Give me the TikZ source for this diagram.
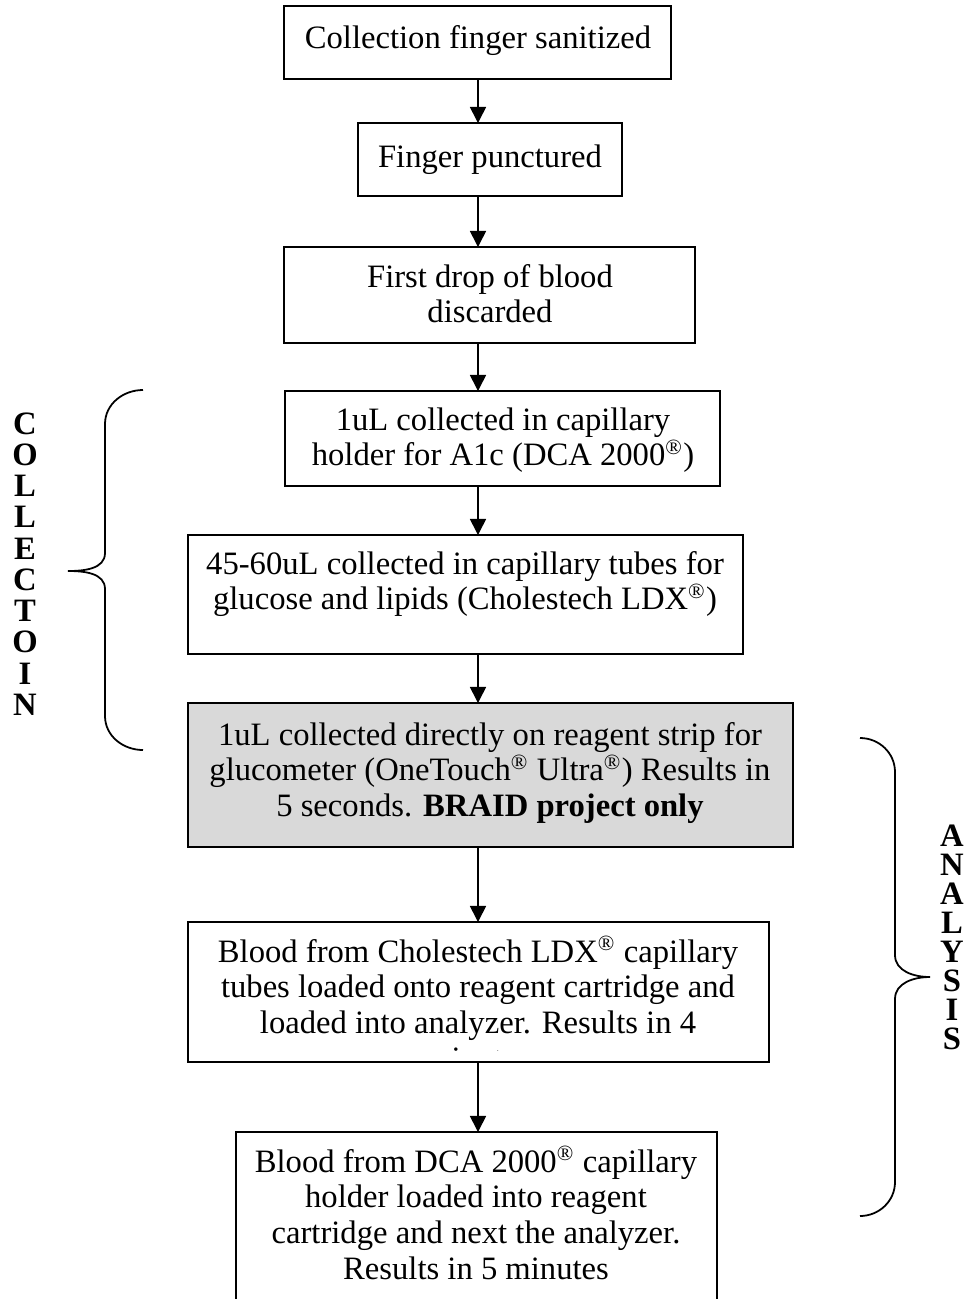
\documentclass[tikz,border=0pt]{standalone}
\usepackage{fontspec}
\setmainfont{Liberation Serif}
\usetikzlibrary{arrows.meta,calc}
\definecolor{boxgray}{RGB}{217,217,217}
\newcommand\mkbox[6]{\node[box,#6,minimum width={(#4-#2)*0.3676pt},minimum height={(#5-#3)*0.3676pt}] (#1) at ({(#2+#4)/2},{(#3+#5)/2}) {};}
\newcommand\reg{\textsuperscript{®}}
\begin{document}
\begin{tikzpicture}[x=0.3676pt,y=-0.3676pt,
  box/.style={draw, line width=0.75pt, rectangle, inner sep=0pt, outer sep=0pt},
  txt/.style={inner sep=0pt, outer sep=0pt, anchor=base, font=\fontsize{12}{13.2}\selectfont},
  arr/.style={line width=0.6pt, -{Triangle[width=5.9pt,length=5.9pt]}},
  side/.style={inner sep=0pt, outer sep=0pt, anchor=base},
  brace/.style={line width=0.65pt}]
\useasboundingbox (0,0) rectangle (974,1299);
\clip (0,0) rectangle (974,1299);
\coordinate (ax) at (478,0);
% boxes
\mkbox{b1}{284}{6}{671}{79}{}
\mkbox{b2}{358}{123}{622}{196}{}
\mkbox{b3}{284}{247}{695}{343}{}
\mkbox{b4}{285}{391}{720}{486}{}
\mkbox{b5}{188}{535}{743}{654}{}
\mkbox{b6}{188}{703}{793}{847}{fill=boxgray}
\mkbox{b8}{236}{1132}{717}{1330}{}
% texts
\node[txt] (t1) at (478,48) {\parbox[t]{300pt}{\centering Collection finger sanitized}};
\node[txt] (t2) at (490,167) {\parbox[t]{300pt}{\centering Finger punctured}};
\node[txt] (t3) at (490,287) {\parbox[t]{300pt}{\centering First drop of blood\\discarded}};
\node[txt] (t4) at (503,430) {\parbox[t]{300pt}{\centering 1uL collected in capillary\\holder for A1c (DCA 2000\reg)}};
\node[txt] (t5) at (465,574) {\parbox[t]{300pt}{\centering 45-60uL collected in capillary tubes for\\glucose and lipids (Cholestech LDX\reg)}};
\node[txt] (t6) at (490,745) {\parbox[t]{300pt}{\centering 1uL collected directly on reagent strip for\\glucometer (OneTouch\reg{} Ultra\reg) Results in\\5 seconds. \textbf{BRAID project only}}};
\begin{scope}
\clip (188,922) rectangle (769,1050);
\node[txt] (t7) at (478,962) {\parbox[t]{300pt}{\centering Blood from Cholestech LDX\reg{} capillary\\tubes loaded onto reagent cartridge and\\loaded into analyzer. Results in 4\\minutes}};
\end{scope}
\mkbox{b7}{188}{922}{769}{1062}{}
\node[txt] (t8) at (476,1172) {\parbox[t]{300pt}{\centering Blood from DCA 2000\reg{} capillary\\holder loaded into reagent\\cartridge and next the analyzer.\\Results in 5 minutes}};
% arrows
\draw[arr] (b1.south -| ax) -- (b2.north -| ax);
\draw[arr] (b2.south -| ax) -- (b3.north -| ax);
\draw[arr] (b3.south -| ax) -- (b4.north -| ax);
\draw[arr] (b4.south -| ax) -- (b5.north -| ax);
\draw[arr] (b5.south -| ax) -- (b6.north -| ax);
\draw[arr] (b6.south -| ax) -- (b7.north -| ax);
\draw[arr] (b7.south -| ax) -- (b8.north -| ax);
% side labels
\node[side] (collab) at (25,434) {\parbox[t]{20pt}{\centering\bfseries\fontsize{12}{11.5}\selectfont C\\O\\L\\L\\E\\C\\T\\O\\I\\N}};
\node[side] (analab) at (952,846) {\parbox[t]{20pt}{\centering\bfseries\fontsize{12}{10.7}\selectfont A\\N\\A\\L\\Y\\S\\I\\S}};
% braces
\draw[brace] (143,390) to[out=180,in=90] (105,424) -- (105,553) to[out=-90,in=0] (68,571)
  to[out=0,in=90] (105,589) -- (105,716) to[out=-90,in=180] (143,750);
\draw[brace] (860,738) to[out=0,in=90] (895,772) -- (895,955) to[out=-90,in=180] (930,977)
  to[out=180,in=90] (895,999) -- (895,1182) to[out=-90,in=0] (860,1216);
\end{tikzpicture}
\end{document}
